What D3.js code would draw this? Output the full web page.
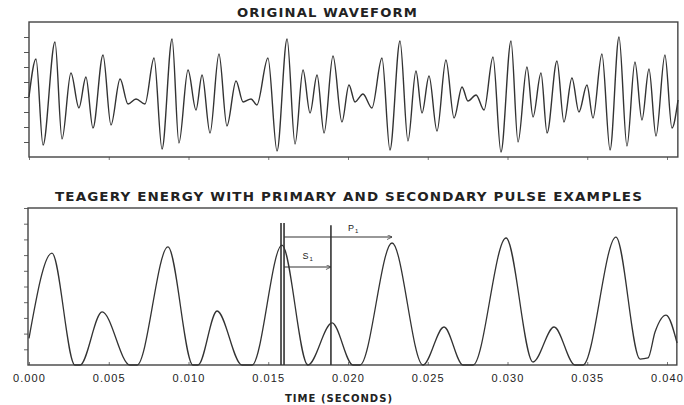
<!DOCTYPE html>
<html>
<head>
<meta charset="utf-8">
<script src="https://cdn.jsdelivr.net/npm/d3@7"></script>
<style>
  body { margin: 0; background: #fff; }
  svg { display: block; }
  text { font-family: "Liberation Sans", Arial, sans-serif; fill: #222; }
  .title { font-family: "DejaVu Sans", sans-serif; letter-spacing: 1px; }
</style>
</head>
<body>
<div id="chart"></div>
<script>
// time in ms
var waveTime = [0, 0.44, 0.88, 1.63, 2.07, 2.63, 3.13, 3.57, 4.01, 4.64, 5.14, 5.71, 6.21, 6.71, 7.27,
    7.84, 8.34, 8.97, 9.40, 9.97, 10.47, 10.85, 11.35, 11.91, 12.41, 12.98, 13.42, 13.92, 14.29,
    14.98, 15.55, 16.18, 16.68, 17.18, 17.62, 18.06, 18.50, 19.06, 19.62, 20.06, 20.44, 20.94, 21.50,
    22.13, 22.63, 23.26, 23.76, 24.26, 24.64, 25.08, 25.58, 26.14, 26.65, 27.15, 27.52, 28.03, 28.53,
    29.09, 29.59, 30.22, 30.66, 31.22, 31.60, 32.10, 32.48, 33.10, 33.54, 34.04, 34.48, 34.98, 35.36,
    35.92, 36.43, 36.99, 37.49, 37.99, 38.43, 38.87, 39.31, 39.87, 40.31, 40.69];
var waveValue = [-0.5, 2.03, -3.7, 3.17, -3.3, 1.1, -1.23, 0.83, -2.57, 2.3, -2.37, 0.7, -0.97, -0.63, -0.97,
    2.1, -3.97, 3.37, -3.57, 1.3, -1.37, 0.97, -2.9, 2.37, -2.43, 0.57, -0.83, -0.63, -1.03,
    2.1, -4.1, 3.37, -3.63, 1.3, -1.57, 0.97, -2.9, 2.23, -2.17, 0.3, -0.83, -0.3, -1.23,
    2.1, -4.03, 3.23, -3.43, 1.23, -1.57, 0.9, -2.77, 1.97, -1.9, 0.17, -0.77, -0.37, -1.37,
    2.17, -4.17, 3.23, -3.5, 1.5, -1.83, 1.1, -2.9, 1.9, -2.17, 0.77, -1.5, 0.3, -1.9,
    2.37, -4.03, 3.5, -3.77, 1.83, -2.03, 1.37, -3.1, 2.3, -2.57, -0.7];

var energyTime = [0, 1.44, 2.88, 3.20, 4.58, 6.33, 6.77, 8.71, 10.28, 10.60, 11.79, 13.35, 13.98,
    15.86, 17.49, 19.0, 20.31, 20.75, 22.76, 24.70, 26.02, 27.21, 27.84, 29.91, 31.60, 32.92,
    34.23, 34.73, 36.80, 38.31, 38.81, 39.25, 39.94, 40.63];
var energyValue = [1.7, 7.13, 0, 0, 3.38, 0, 0, 7.52, 0, 0, 3.44, 0, 0,
    7.64, 0, 2.68, 0, 0, 7.77, 0, 2.42, 0, 0, 8.09, 0.19, 2.42,
    0, 0, 8.15, 0.38, 0.45, 2.1, 3.18, 1.4];

var timeTicks = [0, 5, 10, 15, 20, 25, 30, 35, 40];
var waveTicks = [-3.5, -2.5, -1.5, -0.5, 0.5, 1.5, 2.5, 3.5];
var energyTicks = [1, 2, 3, 4, 5, 6, 7, 8, 9, 10];

// pulse markers (ms) and arrow heights
var markerTime = [15.80, 15.99, 18.93];
var markerTop = [9.04, 9.04, 8.9];
var arrowFrom = [15.99, 15.99];
var arrowTo = [22.76, 18.93];
var arrowLevel = [8.15, 6.24];
var arrowLabel = ["P", "S"];
var labelTime = [20.0, 17.15];
var labelLevel = [8.55, 6.75];

var width = 684, height = 405;
var ink = "#333";

var svg = d3.select("#chart").append("svg")
    .attr("width", width)
    .attr("height", height);

svg.append("defs").append("marker")
    .attr("id", "arrow")
    .attr("viewBox", "0 0 10 10")
    .attr("refX", 10).attr("refY", 5)
    .attr("markerWidth", 7).attr("markerHeight", 5)
    .attr("markerUnits", "userSpaceOnUse")
    .attr("orient", "auto")
    .append("path")
    .attr("d", "M0,0L10,5L0,10")
    .attr("fill", "none")
    .attr("stroke", ink)
    .attr("stroke-width", 1.5);

var x = d3.scaleLinear().domain([0, 40]).range([29, 667]);
var right = x(40.68);

//--- top panel
var yWave = d3.scaleLinear().domain([-4.5, 4.5]).range([157, 22]);

svg.append("text")
    .attr("class", "title")
    .attr("x", 327.5).attr("y", 17)
    .attr("text-anchor", "middle")
    .attr("font-size", "11.5px")
    .attr("font-weight", "bold")
    .attr("textLength", 181)
    .attr("lengthAdjust", "spacingAndGlyphs")
    .text("ORIGINAL WAVEFORM");

svg.append("g")
    .attr("transform", "translate(29,0)")
    .call(d3.axisLeft(yWave).tickValues(waveTicks).tickSize(5).tickFormat(""))
    .call(g => g.select(".domain").remove())
    .selectAll("line").attr("stroke", "#555");

svg.append("g")
    .attr("transform", "translate(0,157)")
    .call(d3.axisBottom(x).tickValues(timeTicks).tickSize(3).tickFormat(""))
    .call(g => g.select(".domain").remove())
    .selectAll("line").attr("stroke", "#777");

svg.append("rect")
    .attr("x", 29).attr("y", 22)
    .attr("width", right - 29).attr("height", 135)
    .attr("fill", "none")
    .attr("stroke", "#444")
    .attr("stroke-width", 1.4);

var waveLine = d3.line()
    .x(function (d, i) { return x(waveTime[i]); })
    .y(function (d) { return yWave(d); })
    .curve(d3.curveMonotoneX);

svg.append("path")
    .attr("d", waveLine(waveValue))
    .attr("fill", "none")
    .attr("stroke", ink)
    .attr("stroke-width", 1.4);

//--- bottom panel
var yEnergy = d3.scaleLinear().domain([0, 10]).range([365, 208]);

svg.append("text")
    .attr("class", "title")
    .attr("x", 349).attr("y", 201)
    .attr("text-anchor", "middle")
    .attr("font-size", "12px")
    .attr("font-weight", "bold")
    .attr("textLength", 588)
    .attr("lengthAdjust", "spacingAndGlyphs")
    .text("TEAGERY ENERGY WITH PRIMARY AND SECONDARY PULSE EXAMPLES");

svg.append("g")
    .attr("transform", "translate(28,0)")
    .call(d3.axisLeft(yEnergy).tickValues(energyTicks).tickSize(4).tickFormat(""))
    .call(g => g.select(".domain").remove())
    .selectAll("line").attr("stroke", "#666");

var xAxis = svg.append("g")
    .attr("transform", "translate(0,365)")
    .call(d3.axisBottom(x).tickValues(timeTicks).tickSize(-3).tickPadding(9)
        .tickFormat(function (d) { return d3.format(".3f")(d / 1000); }));
xAxis.select(".domain").remove();
xAxis.selectAll("line").attr("stroke", "#777");
xAxis.selectAll("text")
    .attr("font-size", "11px")
    .attr("letter-spacing", "1.1px")
    .attr("fill", "#333")
    .style("font-family", "'Liberation Sans', Arial, sans-serif");

svg.append("text")
    .attr("class", "title")
    .attr("x", 339).attr("y", 402)
    .attr("text-anchor", "middle")
    .attr("font-size", "10px")
    .attr("font-weight", "bold")
    .attr("textLength", 108)
    .attr("lengthAdjust", "spacingAndGlyphs")
    .text("TIME (SECONDS)");

svg.append("rect")
    .attr("x", 28).attr("y", 208)
    .attr("width", right - 29).attr("height", 157)
    .attr("fill", "none")
    .attr("stroke", "#444")
    .attr("stroke-width", 1.4);

var energyLine = d3.line()
    .x(function (d, i) { return x(energyTime[i]); })
    .y(function (d) { return yEnergy(d); })
    .curve(d3.curveMonotoneX);

svg.append("path")
    .attr("d", energyLine(energyValue))
    .attr("fill", "none")
    .attr("stroke", ink)
    .attr("stroke-width", 1.3);

// pulse markers
svg.selectAll(".marker")
    .data(markerTime)
    .enter().append("line")
    .attr("class", "marker")
    .attr("x1", function (d) { return x(d); })
    .attr("x2", function (d) { return x(d); })
    .attr("y1", function (d, i) { return yEnergy(markerTop[i]); })
    .attr("y2", yEnergy(0))
    .attr("stroke", ink)
    .attr("stroke-width", 1.6);

svg.selectAll(".arrow")
    .data(arrowFrom)
    .enter().append("line")
    .attr("class", "arrow")
    .attr("x1", function (d) { return x(d); })
    .attr("x2", function (d, i) { return x(arrowTo[i]); })
    .attr("y1", function (d, i) { return yEnergy(arrowLevel[i]); })
    .attr("y2", function (d, i) { return yEnergy(arrowLevel[i]); })
    .attr("stroke", ink)
    .attr("stroke-width", 1.1)
    .attr("marker-end", "url(#arrow)");

var lbl = svg.selectAll(".plabel")
    .data(arrowLabel)
    .enter().append("text")
    .attr("class", "plabel")
    .attr("x", function (d, i) { return x(labelTime[i]); })
    .attr("y", function (d, i) { return yEnergy(labelLevel[i]); })
    .attr("font-size", "9px");
lbl.append("tspan").text(function (d) { return d; });
lbl.append("tspan").attr("dy", 2).attr("dx", 1).attr("font-size", "6px").text("1");
</script>
</body>
</html>
